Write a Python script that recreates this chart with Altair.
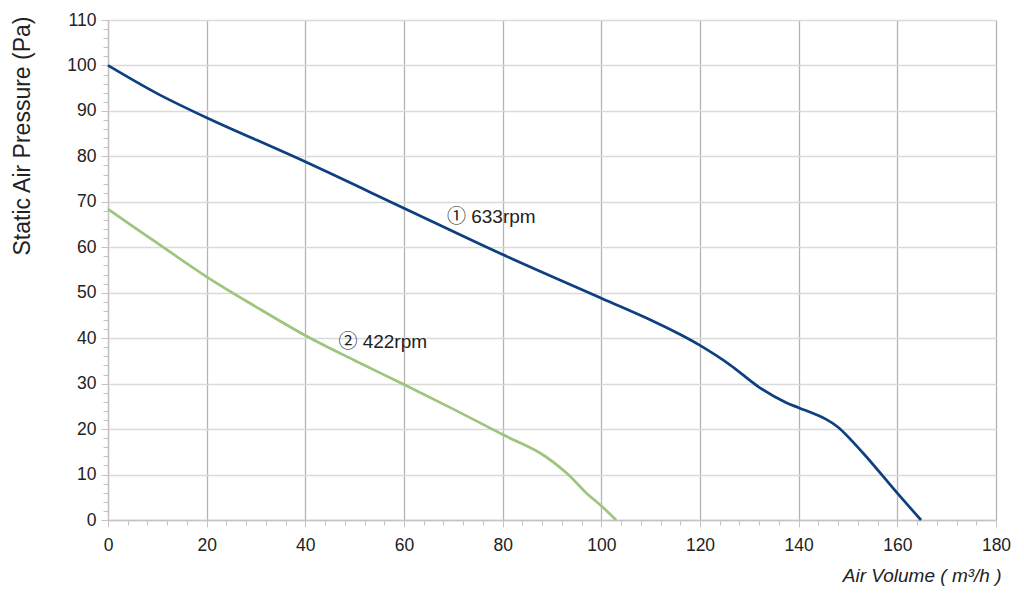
import pandas as pd
import altair as alt

# fan curve readings (air volume m3/h, static pressure Pa)
rpm633_x = [0, 10, 20, 40, 60, 80, 100, 110, 116, 120, 126, 132, 137.5, 140, 145.5, 148, 153, 160, 164.8]
rpm633_y = [100, 93.8, 88.5, 78.8, 68.6, 58.4, 48.8, 44.0, 40.8, 38.4, 34.2, 29.2, 25.8, 24.7, 22.2, 20.4, 14.8, 5.9, 0]

rpm422_x = [0, 10, 20, 30, 40, 50, 60, 70, 80, 87.5, 93, 97, 100, 103]
rpm422_y = [68.4, 60.9, 53.5, 46.9, 40.6, 35.1, 29.8, 24.4, 18.8, 14.8, 10.3, 5.9, 3.1, 0]

label_text = ["① 633rpm", "② 422rpm"]
label_x = [68.7, 46.7]
label_y = [66.7, 39.1]

x_ticks = list(range(0, 181, 20))
y_ticks = list(range(0, 111, 10))
x_minor = list(range(0, 181, 4))
y_minor = list(range(0, 111, 2))

FONT = "Liberation Sans, Arial, Noto Sans CJK JP"

curves = pd.concat([
    pd.DataFrame({"volume": rpm633_x, "pressure": rpm633_y, "speed": "633rpm"}),
    pd.DataFrame({"volume": rpm422_x, "pressure": rpm422_y, "speed": "422rpm"}),
])
labels = pd.DataFrame({"text": label_text, "volume": label_x, "pressure": label_y})

x_scale = alt.Scale(domain=[0, 180], nice=False)
y_scale = alt.Scale(domain=[0, 110], nice=False)

base = alt.Chart(curves)

# main axes with grid
lines = base.mark_line(interpolate="catmull-rom", strokeWidth=2.7).encode(
    x=alt.X(
        "volume:Q",
        scale=x_scale,
        axis=alt.Axis(
            orient="bottom",
            values=x_ticks,
            title="Air Volume ( m³/h )",
            titleFont=FONT,
            titleFontSize=19,
            titleFontWeight="normal",
            titleFontStyle="italic",
            titleColor="#222222",
            titleAlign="right",
            titleBaseline="middle",
            titleX=893,
            titleY=55,
            labelFont=FONT,
            labelFontSize=17.5,
            labelColor="#222222",
            labelPadding=9,
            labelFlush=False,
            grid=True,
            gridColor="#b4b4b4",
            gridWidth=1.3,
            domainColor="#c4c4c4",
            domainWidth=1.3,
            tickColor="#c4c4c4",
            tickSize=7,
        ),
    ),
    y=alt.Y(
        "pressure:Q",
        scale=y_scale,
        axis=alt.Axis(
            orient="left",
            values=y_ticks,
            title="Static Air Pressure  (Pa)",
            titleFont=FONT,
            titleFontSize=23,
            titleFontWeight="normal",
            titleColor="#222222",
            titleAngle=-90,
            titleAlign="right",
            titleBaseline="middle",
            titleX=-86,
            titleY=-4,
            labelFont=FONT,
            labelFontSize=17.5,
            labelColor="#222222",
            labelPadding=5,
            labelFlush=False,
            grid=True,
            gridColor="#dadada",
            gridWidth=1.3,
            domainColor="#c4c4c4",
            domainWidth=1.3,
            tickColor="#c4c4c4",
            tickSize=7,
        ),
    ),
    color=alt.Color(
        "speed:N",
        scale=alt.Scale(domain=["633rpm", "422rpm"], range=["#0e3f80", "#9dc57e"]),
        legend=None,
    ),
    detail="speed:N",
)

# minor tick axes only
minor = base.mark_line(strokeOpacity=0).encode(
    x=alt.X(
        "volume:Q",
        scale=x_scale,
        axis=alt.Axis(values=x_minor, orient="bottom", labels=False, grid=False,
                      domain=False, title="", tickColor="#c4c4c4", tickSize=5),
    ),
    y=alt.Y(
        "pressure:Q",
        scale=y_scale,
        axis=alt.Axis(values=y_minor, orient="left", labels=False, grid=False,
                      domain=False, title="", tickColor="#c4c4c4", tickSize=5),
    ),
    detail="speed:N",
)

text = alt.Chart(labels).mark_text(
    align="left", baseline="middle", font=FONT, fontSize=19, color="#222222"
).encode(
    x=alt.X("volume:Q", scale=x_scale, axis=None),
    y=alt.Y("pressure:Q", scale=y_scale, axis=None),
    text="text:N",
)

chart = (
    alt.layer(lines, minor, text)
    .resolve_axis(x="independent", y="independent")
    .properties(
        width=888,
        height=500,
        autosize=alt.AutoSizeParams(type="none"),
        padding={"left": 100, "top": 12, "right": 20, "bottom": 70},
        background="white",
    )
    .configure_view(strokeWidth=0)
)

chart.save("out.html", embed_options={"renderer": "svg", "actions": False})
